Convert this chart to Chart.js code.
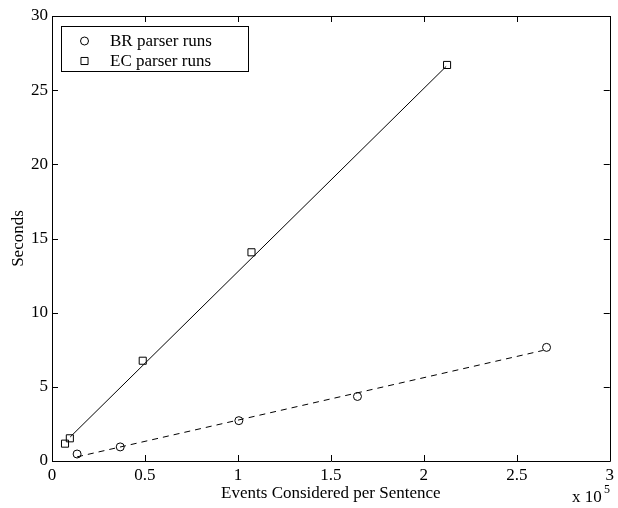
<!DOCTYPE html>
<html>
<head>
<meta charset="utf-8">
<script src="https://cdn.jsdelivr.net/npm/chart.js@4/dist/chart.umd.min.js"></script>
<style>
  html, body { margin: 0; padding: 0; background: #fff; }
  #chart { display: block; }
</style>
</head>
<body>
<canvas id="chart" width="618" height="508"></canvas>
<script>
// --- data (x in units of 10^5 events) ---
const brLabel = 'BR parser runs';
const ecLabel = 'EC parser runs';
const brX = [0.135, 0.367, 1.005, 1.643, 2.66];
const brY = [0.47, 0.95, 2.72, 4.35, 7.66];
const ecX = [0.07, 0.096, 0.488, 1.073, 2.125];
const ecY = [1.17, 1.53, 6.76, 14.07, 26.7];
// fitted lines drawn through the runs
const brFitX = [0.135, 2.64];
const brFitY = [0.28, 7.45];
const ecFitX = [0.098, 2.12];
const ecFitY = [1.62, 26.6];
// axis ticks
const xTicks = [0, 0.5, 1, 1.5, 2, 2.5, 3];
const xTickLabels = ['0', '0.5', '1', '1.5', '2', '2.5', '3'];
const yTicks = [0, 5, 10, 15, 20, 25, 30];
const yTickLabels = ['0', '5', '10', '15', '20', '25', '30'];

const FONT = '"Liberation Serif", "Times New Roman", serif';
const toPoints = (xs, ys) => xs.map((x, i) => ({ x: x, y: ys[i] }));

// box, inward ticks on all four sides, legend and the x 10^5 note
const framePlugin = {
    id: 'frame',
    afterDraw(chart) {
        const ctx = chart.ctx;
        const a = chart.chartArea;
        const xs = chart.scales.x;
        const ys = chart.scales.y;
        const tl = 6;
        ctx.save();
        ctx.strokeStyle = '#000';
        ctx.lineWidth = 1;
        ctx.beginPath();
        ctx.rect(Math.round(a.left) + 0.5, Math.round(a.top) + 0.5,
                 Math.round(a.right - a.left), Math.round(a.bottom - a.top));
        xTicks.forEach(v => {
            const px = Math.round(xs.getPixelForValue(v)) + 0.5;
            ctx.moveTo(px, a.bottom); ctx.lineTo(px, a.bottom - tl);
            ctx.moveTo(px, a.top); ctx.lineTo(px, a.top + tl);
        });
        yTicks.forEach(v => {
            const py = Math.round(ys.getPixelForValue(v)) + 0.5;
            ctx.moveTo(a.left, py); ctx.lineTo(a.left + tl, py);
            ctx.moveTo(a.right, py); ctx.lineTo(a.right - tl, py);
        });
        ctx.stroke();

        // legend box
        const lx = 61, ly = 26, lw = 187, lh = 45;
        ctx.fillStyle = '#fff';
        ctx.fillRect(lx, ly, lw, lh);
        ctx.strokeRect(lx + 0.5, ly + 0.5, lw, lh);
        ctx.font = '17px ' + FONT;
        ctx.textBaseline = 'middle';
        ctx.textAlign = 'left';
        [[brLabel, 'circle', 4, 41], [ecLabel, 'rect', 5, 61]].forEach(([txt, style, r, y]) => {
            ctx.fillStyle = 'rgba(0,0,0,0)';
            Chart.helpers.drawPoint(ctx, { pointStyle: style, radius: r, borderWidth: 1, rotation: 0 }, 84.5, y);
            ctx.fillStyle = '#000';
            ctx.fillText(txt, 110, y + 1);
        });

        // exponent under the x axis
        ctx.textBaseline = 'alphabetic';
        ctx.fillText('x 10', 572, 502);
        ctx.font = '12px ' + FONT;
        ctx.fillText('5', 604, 493);
        ctx.restore();
    }
};

new Chart(document.getElementById('chart'), {
    type: 'scatter',
    data: {
        datasets: [
            {
                label: brLabel,
                data: toPoints(brX, brY),
                pointStyle: 'circle',
                pointRadius: 4,
                borderColor: '#000',
                backgroundColor: 'rgba(0,0,0,0)',
                borderWidth: 1,
                showLine: false
            },
            {
                label: ecLabel,
                data: toPoints(ecX, ecY),
                pointStyle: 'rect',
                pointRadius: 5,
                borderColor: '#000',
                backgroundColor: 'rgba(0,0,0,0)',
                borderWidth: 1,
                showLine: false
            },
            {
                label: 'BR fit',
                data: toPoints(brFitX, brFitY),
                showLine: true,
                pointRadius: 0,
                borderColor: '#000',
                borderWidth: 1,
                borderDash: [6, 5]
            },
            {
                label: 'EC fit',
                data: toPoints(ecFitX, ecFitY),
                showLine: true,
                pointRadius: 0,
                borderColor: '#000',
                borderWidth: 1
            }
        ]
    },
    options: {
        responsive: false,
        animation: false,
        layout: { padding: { left: 0, right: 5, top: 16, bottom: 0 } },
        plugins: {
            legend: { display: false },
            tooltip: { enabled: false }
        },
        scales: {
            x: {
                type: 'linear',
                min: 0,
                max: 3,
                afterBuildTicks: s => { s.ticks = xTicks.map(v => ({ value: v })); },
                afterFit: s => { s.height = 47; },
                grid: { display: false, drawTicks: false },
                border: { display: false },
                ticks: {
                    color: '#000',
                    padding: 4,
                    maxRotation: 0,
                    font: { family: FONT, size: 17 },
                    callback: v => xTickLabels[xTicks.indexOf(v)]
                },
                title: {
                    display: true,
                    text: 'Events Considered per Sentence',
                    color: '#000',
                    font: { family: FONT, size: 17 },
                    padding: { top: 0, bottom: 4 }
                }
            },
            y: {
                type: 'linear',
                min: 0,
                max: 30,
                afterBuildTicks: s => { s.ticks = yTicks.map(v => ({ value: v })); },
                afterFit: s => { s.width = 52; },
                grid: { display: false, drawTicks: false },
                border: { display: false },
                ticks: {
                    color: '#000',
                    padding: 4,
                    font: { family: FONT, size: 17 },
                    callback: v => yTickLabels[yTicks.indexOf(v)]
                },
                title: {
                    display: true,
                    text: 'Seconds',
                    color: '#000',
                    font: { family: FONT, size: 17 },
                    padding: { top: 8, bottom: 0 }
                }
            }
        }
    },
    plugins: [framePlugin]
});
</script>
</body>
</html>
